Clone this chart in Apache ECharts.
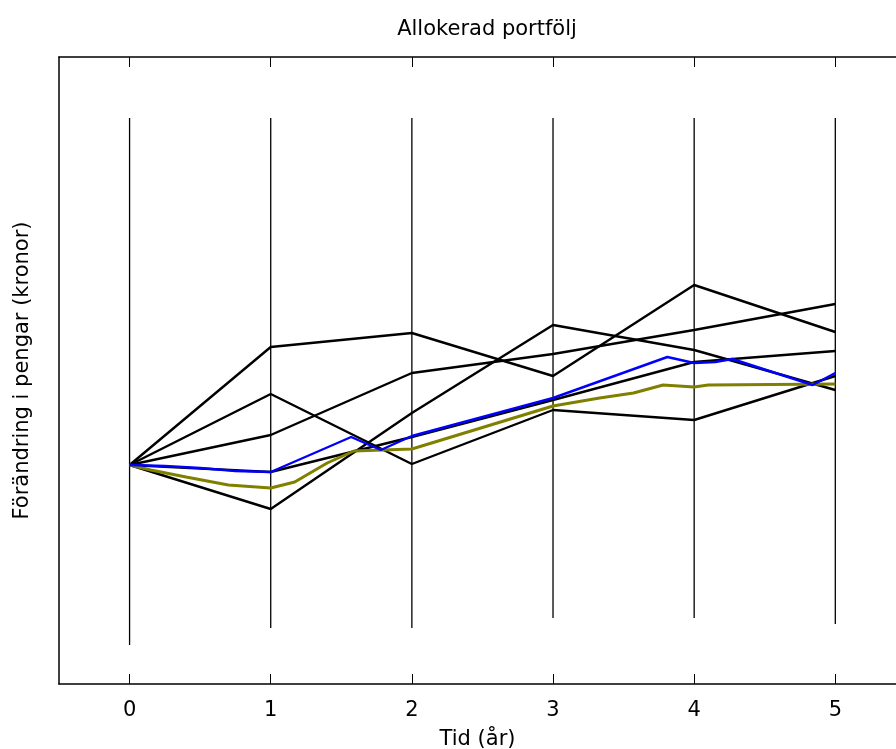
<!DOCTYPE html>
<html>
<head>
<meta charset="utf-8">
<script src="https://cdn.jsdelivr.net/npm/echarts@6/dist/echarts.min.js"></script>
<style>
  html, body { margin: 0; padding: 0; background: #fff; }
  #chart { width: 896px; height: 749px; }
</style>
</head>
<body>
<div id="chart"></div>
<script>
// Years on the horizontal axis
var years = [0, 1, 2, 3, 4, 5];
var yearLabels = ['0', '1', '2', '3', '4', '5'];

// Yearly value paths of the individual holdings (change in kronor)
var pathA = [0, 118, 132, 89, 180, 133];
var pathB = [0, 71, 1, 55, 45, 89];
var pathC = [0, 30, 92, 111, 135, 161];
var pathD = [0, -44, 52, 140, 115, 75];
var pathE = [0, -7, 28, 65, 103, 114];

// Range bars drawn at each year
var rangeHigh = [347, 347, 347, 347, 347, 347];
var rangeLow = [-180, -163, -163, -153, -153, -159];

// Allocated portfolio (blue) sampled over time
var blueT = [0, 0.25, 0.5, 0.75, 1, 1.57, 1.78, 2, 3, 3.81, 4, 4.15, 4.27, 4.84, 5];
var blueV = [0, -1, -3, -6, -7, 28, 15, 29, 67, 108, 102, 103, 106, 80, 92];

// Mean path (olive) sampled over time
var oliveT = [0, 0.15, 0.4, 0.7, 1, 1.17, 1.4, 1.59, 2, 3, 3.33, 3.57, 3.78, 4, 4.1, 5];
var oliveV = [0, -5, -12, -20, -23, -17, 2, 14, 16, 59, 67, 72, 80, 78, 80, 81];

// Axis extents (the right edge of the box runs past the canvas)
var xMin = -0.5, xMax = 5.43;
var yMin = -219, yMax = 408;
var FONT = 'DejaVu Sans';

function pairs(xs, ys) {
  return xs.map(function (x, i) { return [x, ys[i]]; });
}

var series = [];

// vertical range bars
years.forEach(function (yr, i) {
  series.push({
    type: 'line', silent: true, showSymbol: false, z: 1,
    data: [[yr, rangeLow[i]], [yr, rangeHigh[i]]],
    lineStyle: { color: '#000', width: 1.3 }
  });
});

// individual holdings
[pathA, pathB, pathC, pathD, pathE].forEach(function (p) {
  series.push({
    type: 'line', silent: true, showSymbol: false, z: 2,
    data: pairs(years, p),
    lineStyle: { color: '#000', width: 2.4 }
  });
});

series.push({
  type: 'line', silent: true, showSymbol: false, z: 3,
  data: pairs(oliveT, oliveV),
  lineStyle: { color: '#808000', width: 3 }
});
series.push({
  type: 'line', silent: true, showSymbol: false, z: 4,
  data: pairs(blueT, blueV),
  lineStyle: { color: '#0000ff', width: 2.4 }
});

var chart = echarts.init(document.getElementById('chart'), null, { renderer: 'canvas' });
chart.setOption({
  animation: false,
  backgroundColor: '#fff',
  title: {
    text: 'Allokerad portfölj',
    left: 482, top: 14, textAlign: 'center',
    textStyle: { fontFamily: FONT, fontSize: 21, fontWeight: 'normal', color: '#000' }
  },
  grid: { left: 59, top: 57, right: 0, height: 627, containLabel: false, outerBoundsMode: 'none' },
  xAxis: [{
    type: 'value', min: xMin, max: xMax, position: 'bottom',
    name: 'Tid (år)', nameLocation: 'middle', nameGap: 45,
    nameTextStyle: { fontFamily: FONT, fontSize: 21, color: '#000' },
    axisLine: { show: true, onZero: false, lineStyle: { color: '#000', width: 1.5 } },
    axisTick: { show: true, inside: true, length: 10, customValues: years, lineStyle: { color: '#000', width: 1 } },
    axisLabel: {
      show: true, margin: 16, customValues: years,
      formatter: function (v) { return yearLabels[years.indexOf(v)]; },
      fontFamily: FONT, fontSize: 21, color: '#000'
    },
    splitLine: { show: false }
  }, {
    type: 'value', min: xMin, max: xMax, position: 'top',
    axisLine: { show: true, onZero: false, lineStyle: { color: '#000', width: 1.5 } },
    axisTick: { show: true, inside: true, length: 10, customValues: years, lineStyle: { color: '#000', width: 1 } },
    axisLabel: { show: false },
    splitLine: { show: false }
  }],
  yAxis: {
    type: 'value', min: yMin, max: yMax,
    name: 'Förändring i pengar (kronor)', nameLocation: 'middle', nameGap: 26, nameRotate: 90,
    nameTextStyle: { fontFamily: FONT, fontSize: 21, color: '#000' },
    axisLine: { show: true, onZero: false, lineStyle: { color: '#000', width: 1.5 } },
    axisTick: { show: false },
    axisLabel: { show: false },
    splitLine: { show: false }
  },
  series: series
});
</script>
</body>
</html>
